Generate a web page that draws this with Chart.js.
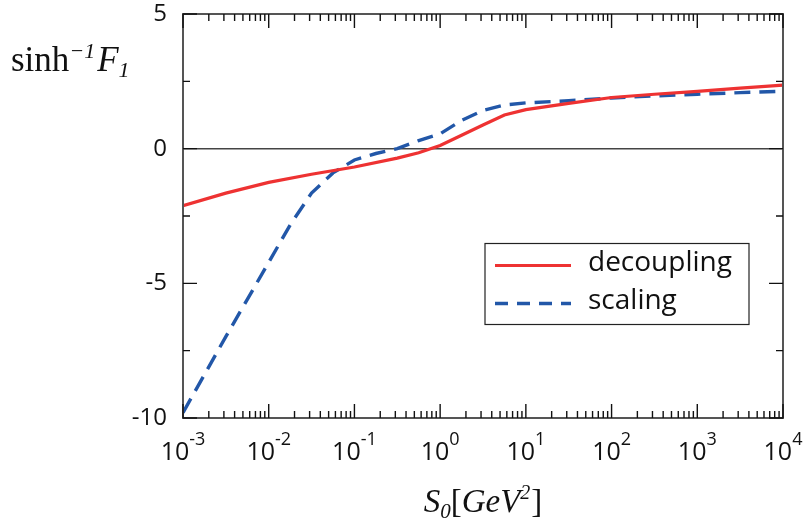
<!DOCTYPE html>
<html>
<head>
<meta charset="utf-8">
<script src="https://cdn.jsdelivr.net/npm/chart.js@4.4.0/dist/chart.umd.min.js"></script>
<style>
  html, body { margin: 0; padding: 0; background: #fff; }
  #wrap { width: 804px; height: 523px; position: relative; }
</style>
</head>
<body>
<div id="wrap"><canvas id="grafiek"></canvas></div>
<script>
// S0 waarden (GeV^2) en sinh^-1 F1 per curve
const decouplingX = [0.001, 0.00316, 0.01, 0.0316, 0.1, 0.316, 0.562, 1, 1.78, 3.16, 5.62, 10, 31.6, 100, 316, 1000, 3160, 10000];
const decouplingY = [-2.12, -1.65, -1.25, -0.95, -0.68, -0.35, -0.15, 0.12, 0.5, 0.88, 1.25, 1.45, 1.68, 1.9, 2.02, 2.13, 2.25, 2.36];

const scalingX = [0.001, 0.00316, 0.01, 0.0178, 0.0316, 0.0562, 0.1, 0.178, 0.316, 0.562, 1, 1.78, 3.16, 5.62, 10, 31.6, 100, 316, 1000, 3160, 10000];
const scalingY = [-9.8, -6.98, -4.22, -2.83, -1.65, -0.9, -0.42, -0.18, 0.0, 0.3, 0.55, 1.05, 1.42, 1.62, 1.70, 1.78, 1.88, 1.96, 2.02, 2.08, 2.13];

const seriesLabels = ['decoupling', 'scaling'];

// tick labels
const xTickValues = [0.001, 0.01, 0.1, 1, 10, 100, 1000, 10000];
const xTickExps = ['-3', '-2', '-1', '0', '1', '2', '3', '4'];
const yTickValues = [-10, -5, 0, 5];

const toPoints = (xs, ys) => xs.map((x, i) => ({ x: x, y: ys[i] }));

const SANS = '"Open Sans", "DejaVu Sans", sans-serif';
const SERIF = '"Liberation Serif", "DejaVu Serif", serif';

// tekst met sub/superscript stukjes
function drawRich(ctx, parts, x, y) {
    let cx = x;
    parts.forEach(p => {
        ctx.font = p.font;
        ctx.fillText(p.t, cx, y + (p.dy || 0));
        cx += ctx.measureText(p.t).width + (p.kern || 0);
    });
}
function richWidth(ctx, parts) {
    let w = 0;
    parts.forEach(p => { ctx.font = p.font; w += ctx.measureText(p.t).width + (p.kern || 0); });
    return w;
}

const framePlugin = {
    id: 'frame',
    beforeDatasetsDraw(chart) {
        const { ctx, chartArea: a, scales: { y } } = chart;
        const y0 = y.getPixelForValue(0);
        ctx.save();
        ctx.strokeStyle = '#444';
        ctx.lineWidth = 1.5;
        ctx.beginPath();
        ctx.moveTo(a.left, y0);
        ctx.lineTo(a.right, y0);
        ctx.stroke();
        ctx.restore();
    },
    afterDraw(chart) {
        const { ctx, chartArea: a, scales: { x, y } } = chart;
        ctx.save();

        // kader
        ctx.strokeStyle = '#555';
        ctx.lineWidth = 2;
        ctx.strokeRect(a.left, a.top, a.right - a.left, a.bottom - a.top);

        // ticks naar binnen
        ctx.strokeStyle = '#111';
        ctx.lineWidth = 1.4;
        ctx.beginPath();
        xTickValues.forEach((v, i) => {
            const px = x.getPixelForValue(v);
            ctx.moveTo(px, a.bottom); ctx.lineTo(px, a.bottom - 14);
            ctx.moveTo(px, a.top); ctx.lineTo(px, a.top + 14);
            if (i < xTickValues.length - 1) {
                for (let m = 2; m <= 9; m++) {
                    const mx = x.getPixelForValue(v * m);
                    ctx.moveTo(mx, a.bottom); ctx.lineTo(mx, a.bottom - 7);
                    ctx.moveTo(mx, a.top); ctx.lineTo(mx, a.top + 7);
                }
            }
        });
        for (let v = -10; v <= 5; v += 2.5) {
            const py = y.getPixelForValue(v);
            const len = (v % 5 === 0) ? 14 : 7;
            ctx.moveTo(a.left, py); ctx.lineTo(a.left + len, py);
            ctx.moveTo(a.right, py); ctx.lineTo(a.right - len, py);
        }
        ctx.stroke();

        // x tick labels 10^n
        ctx.fillStyle = '#111';
        ctx.textBaseline = 'alphabetic';
        ctx.textAlign = 'left';
        xTickValues.forEach((v, i) => {
            const px = x.getPixelForValue(v);
            const parts = [
                { t: '10', font: '25px ' + SANS },
                { t: xTickExps[i], font: '18px ' + SANS, dy: -15 }
            ];
            const w = richWidth(ctx, parts);
            drawRich(ctx, parts, px - w / 2, a.bottom + 42);
        });

        // y titel: sinh^-1 F_1
        const yTitle = [
            { t: 'sinh', font: '35px ' + SERIF },
            { t: '\u22121', font: 'italic 22px ' + SERIF, dy: -13, kern: 2 },
            { t: 'F', font: 'italic 35px ' + SERIF },
            { t: '1', font: 'italic 22px ' + SERIF, dy: 6 }
        ];
        ctx.fillStyle = '#111';
        drawRich(ctx, yTitle, 11, 71);

        // x titel: S_0[GeV^2]
        const xTitle = [
            { t: 'S', font: 'italic 33px ' + SERIF },
            { t: '0', font: 'italic 21px ' + SERIF, dy: 6 },
            { t: '[', font: '33px ' + SERIF },
            { t: 'GeV', font: 'italic 33px ' + SERIF },
            { t: '2', font: 'italic 20px ' + SERIF, dy: -13, kern: 1 },
            { t: ']', font: '33px ' + SERIF }
        ];
        const tw = richWidth(ctx, xTitle);
        drawRich(ctx, xTitle, (a.left + a.right) / 2 - tw / 2, 512);

        // legenda in het plotvlak
        const lx = 485, ly = 243.5, lw = 264, lh = 81;
        ctx.fillStyle = '#fff';
        ctx.fillRect(lx, ly, lw, lh);
        ctx.strokeStyle = '#222';
        ctx.lineWidth = 1.2;
        ctx.strokeRect(lx, ly, lw, lh);
        const rows = [265.5, 303.5];
        chart.data.datasets.forEach((ds, i) => {
            ctx.strokeStyle = ds.borderColor;
            ctx.lineWidth = ds.borderWidth;
            ctx.setLineDash(ds.borderDash ? [13, 9] : []);
            ctx.beginPath();
            ctx.moveTo(lx + 10, rows[i]);
            ctx.lineTo(lx + 86, rows[i]);
            ctx.stroke();
            ctx.setLineDash([]);
            ctx.fillStyle = '#111';
            ctx.font = '28px ' + SANS;
            ctx.textBaseline = 'middle';
            ctx.fillText(ds.label, lx + 103, rows[i] - 2);
        });

        ctx.restore();
    }
};

const ctx = document.getElementById('grafiek').getContext('2d');
new Chart(ctx, {
    type: 'line',
    data: {
        datasets: [{
            label: seriesLabels[0],
            data: toPoints(decouplingX, decouplingY),
            borderColor: '#ee3232',
            borderWidth: 3.2,
            pointRadius: 0,
            fill: false,
            tension: 0
        }, {
            label: seriesLabels[1],
            data: toPoints(scalingX, scalingY),
            borderColor: '#2257a8',
            borderWidth: 3.4,
            borderDash: [16, 9],
            pointRadius: 0,
            fill: false,
            tension: 0
        }]
    },
    options: {
        responsive: true,
        maintainAspectRatio: false,
        devicePixelRatio: 1,
        animation: false,
        layout: { padding: { top: 14, right: 21, left: 0, bottom: 0 } },
        plugins: {
            legend: { display: false },
            tooltip: { enabled: false }
        },
        scales: {
            x: {
                type: 'logarithmic',
                min: 0.001,
                max: 10000,
                grid: { display: false },
                border: { display: false },
                ticks: { display: false },
                afterFit: scale => { scale.height = 105; }
            },
            y: {
                type: 'linear',
                min: -10,
                max: 5,
                grid: { display: false },
                border: { display: false },
                afterBuildTicks: scale => {
                    scale.ticks = yTickValues.map(v => ({ value: v }));
                },
                ticks: {
                    color: '#111',
                    padding: 8,
                    font: { family: SANS, size: 24 },
                    callback: v => String(v)
                },
                afterFit: scale => {
                    scale.width = 183;
                    scale.paddingTop = 0;
                    scale.paddingBottom = 0;
                }
            }
        }
    },
    plugins: [framePlugin]
});
</script>
</body>
</html>
